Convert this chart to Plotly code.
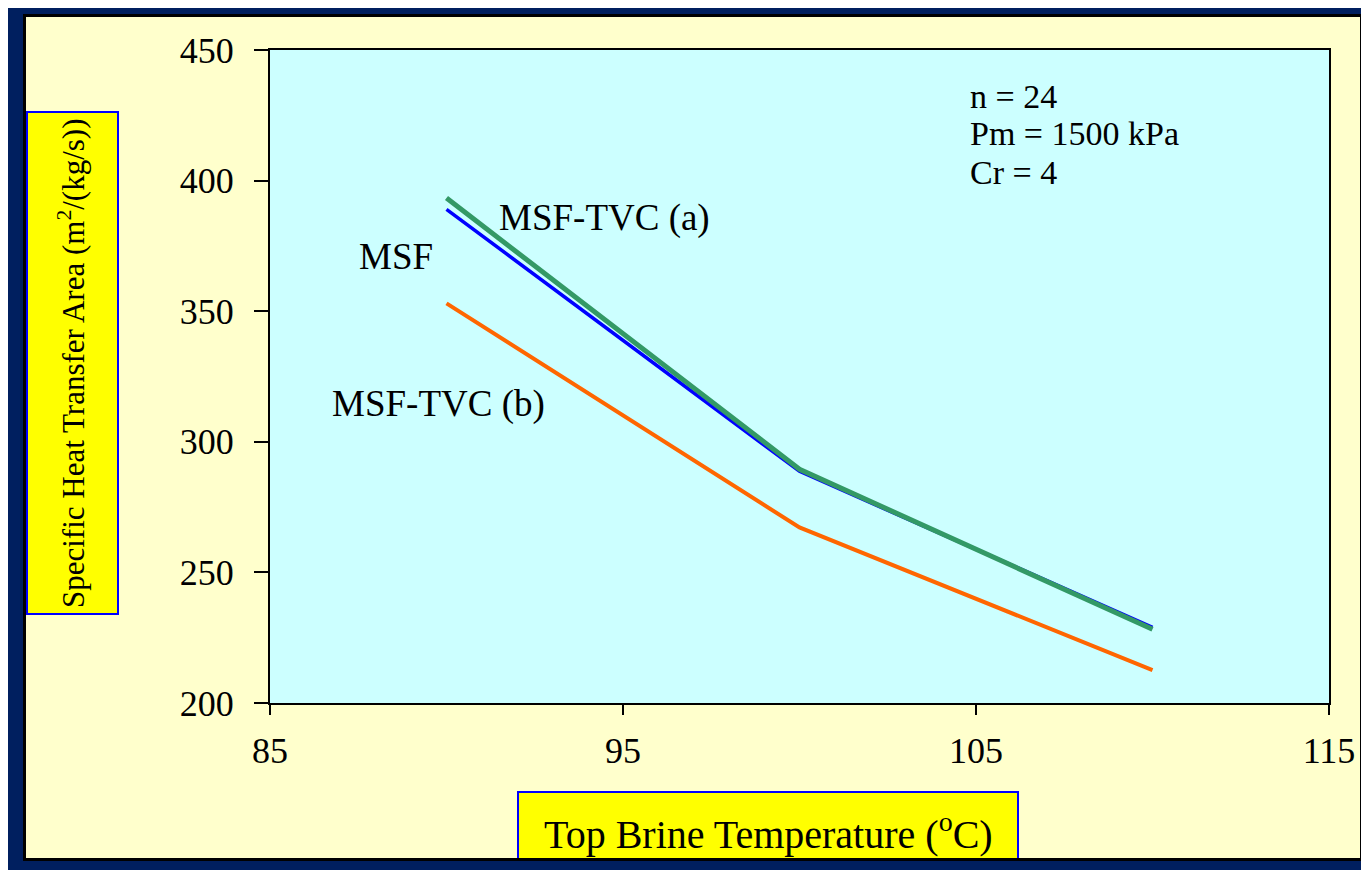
import plotly.graph_objects as go

# ---- data ----
temps = [90, 100, 110]
msf = [389, 288.7, 229]
msf_tvc_a = [393.3, 289.5, 228.2]
msf_tvc_b = [353, 267.2, 212.6]
x_ticks = [85, 95, 105, 115]
y_ticks = [200, 250, 300, 350, 400, 450]

OFF = 8  # page body margin
W, H = 1369 - OFF, 870 - OFF
L, R, T, B = 270 - OFF, 1329 - OFF, 50 - OFF, 703 - OFF  # plot area in figure pixels

def px(x):
    return (x - OFF - L) / (R - L)

def py(y):
    return (B - (y - OFF)) / (B - T)

FONT = "Liberation Serif, Times New Roman, Tinos, DejaVu Serif, serif"

fig = go.Figure()
fig.add_trace(go.Scatter(x=temps, y=msf, mode="lines", name="MSF",
                         line=dict(color="#0000FF", width=3.5)))
fig.add_trace(go.Scatter(x=temps, y=msf_tvc_a, mode="lines", name="MSF-TVC (a)",
                         line=dict(color="#339966", width=5)))
fig.add_trace(go.Scatter(x=temps, y=msf_tvc_b, mode="lines", name="MSF-TVC (b)",
                         line=dict(color="#FF6600", width=4)))

shapes = []
def rect(x0, y0, x1, y1, fill=None, line=None, lw=0, layer="above"):
    d = dict(type="rect", xref="paper", yref="paper",
             x0=px(x0), x1=px(x1), y0=py(y1), y1=py(y0), layer=layer)
    d["fillcolor"] = fill if fill else "rgba(0,0,0,0)"
    d["line"] = dict(color=line if line else "rgba(0,0,0,0)", width=lw)
    shapes.append(d)

# axis title boxes
rect(27, 112, 118, 614, fill="#FFFF00", line="#0000FF", lw=2)
rect(518, 792, 1018, 875, fill="#FFFF00", line="#0000FF", lw=2)
# outer frame
NAVY = "#001F5F"
rect(OFF, OFF, 24, 870, fill=NAVY)
rect(OFF, OFF, 1369, 15, fill=NAVY)
rect(1362, OFF, 1369, 870, fill=NAVY)
rect(OFF, 860, 1369, 870, fill=NAVY)
rect(24.5, 15.5, 1361.5, 859.5, line="#000000", lw=3)

ann = []
def text(x, y, s, size=37, xanchor="left", angle=0):
    ann.append(dict(x=px(x), y=py(y), xref="paper", yref="paper", text=s,
                    showarrow=False, xanchor=xanchor, yanchor="middle",
                    textangle=angle, font=dict(family=FONT, size=size, color="#000000")))

text(357, 256, "MSF")
text(497, 218, "MSF-TVC (a)")
text(330, 404, "MSF-TVC (b)")
text(968, 96, "n = 24", size=34)
text(968, 134, "Pm = 1500 kPa", size=34)
text(968, 172, "Cr = 4", size=34)
text(72, 363, "Specific Heat Transfer Area (m<sup>2</sup>/(kg/s))", size=31, angle=-90, xanchor="center")
text(768, 831, "Top Brine Temperature (<sup>o</sup>C)", size=40, xanchor="center")

fig.update_layout(
    width=W, height=H,
    margin=dict(l=L, r=W - R, t=T, b=H - B),
    paper_bgcolor="#FFFFCC",
    plot_bgcolor="#CCFFFF",
    showlegend=False,
    shapes=shapes,
    annotations=ann,
    font=dict(family=FONT, size=36, color="#000000"),
)
fig.update_xaxes(range=[85, 115], tickvals=x_ticks, ticks="outside", ticklen=10,
                 tickwidth=2, tickcolor="#000000", showline=True, linecolor="#000000",
                 linewidth=2, mirror=True, showgrid=False, zeroline=False,
                 ticklabelstandoff=5, tickfont=dict(family=FONT, size=36))
fig.update_yaxes(range=[200, 450], tickvals=y_ticks, ticks="outside", ticklen=14,
                 tickwidth=2, tickcolor="#000000", showline=True, linecolor="#000000",
                 linewidth=2, mirror=True, showgrid=False, zeroline=False,
                 ticklabelstandoff=13, tickfont=dict(family=FONT, size=36))

fig.write_html("out.html")
